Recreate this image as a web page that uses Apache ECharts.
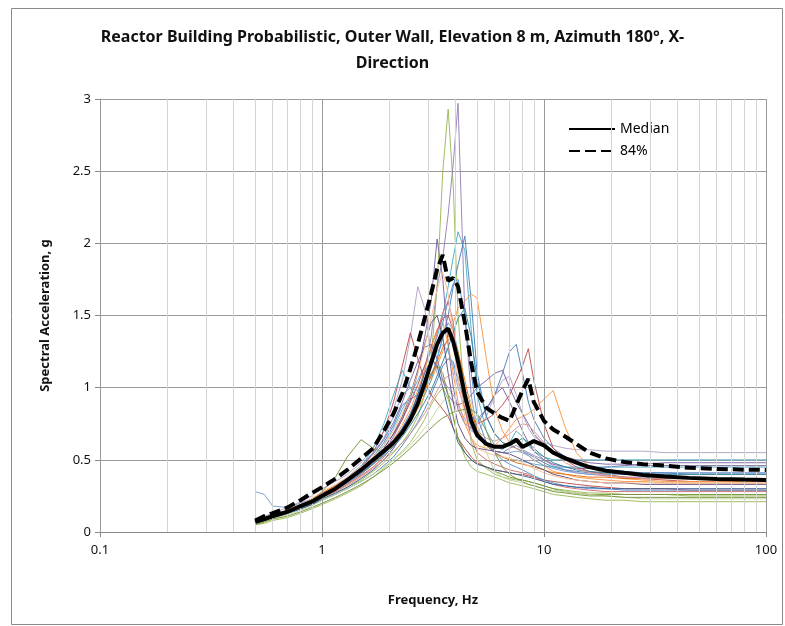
<!DOCTYPE html>
<html>
<head>
<meta charset="utf-8">
<script src="https://cdn.jsdelivr.net/npm/echarts@6/dist/echarts.min.js"></script>
<style>html,body{margin:0;padding:0;background:#fff}#c{width:785px;height:626px}</style>
</head>
<body>
<div id="c"></div>
<script>
const freqs = [0.5,0.55,0.6,0.7,0.8,0.9,1.0,1.15,1.3,1.5,1.7,1.9,2.1,2.3,2.5,2.7,2.9,3.1,3.3,3.5,3.7,3.9,4.1,4.4,4.7,5.0,5.5,6.0,6.5,7.0,7.5,8.0,8.5,9.0,10,11,12.5,14,16,19,23,28,35,45,60,80,100];

const median = [0.07,0.09,0.11,0.14,0.18,0.21,0.25,0.30,0.36,0.43,0.50,0.56,0.62,0.69,0.78,0.89,1.03,1.17,1.30,1.38,1.41,1.32,1.18,0.95,0.77,0.67,0.61,0.59,0.59,0.61,0.64,0.59,0.61,0.63,0.60,0.55,0.51,0.48,0.45,0.425,0.41,0.395,0.385,0.375,0.368,0.363,0.36];
const p84 = [0.08,0.11,0.13,0.17,0.22,0.27,0.31,0.37,0.43,0.51,0.58,0.70,0.82,0.96,1.13,1.30,1.48,1.65,1.82,1.92,1.74,1.76,1.70,1.45,1.17,0.97,0.86,0.82,0.79,0.77,0.88,0.98,1.06,0.90,0.77,0.71,0.66,0.61,0.55,0.51,0.485,0.47,0.46,0.445,0.437,0.432,0.43];

const r01 = [0.06,0.08,0.10,0.13,0.16,0.19,0.22,0.27,0.31,0.36,0.42,0.48,0.55,0.62,0.70,0.80,0.95,1.20,1.70,2.50,2.93,2.40,1.50,0.90,0.62,0.50,0.44,0.40,0.38,0.37,0.36,0.36,0.35,0.34,0.32,0.30,0.29,0.28,0.27,0.27,0.26,0.26,0.26,0.25,0.25,0.25,0.25];
const r02 = [0.08,0.10,0.12,0.15,0.19,0.23,0.27,0.32,0.37,0.44,0.50,0.57,0.64,0.72,0.82,0.95,1.12,1.35,1.70,1.90,2.20,2.55,2.97,1.50,0.95,0.70,0.60,0.56,0.55,0.58,0.60,0.57,0.55,0.53,0.50,0.46,0.43,0.41,0.40,0.39,0.38,0.38,0.37,0.37,0.37,0.37,0.37];
const r03 = [0.07,0.09,0.11,0.14,0.17,0.21,0.25,0.30,0.35,0.42,0.50,0.60,0.72,0.85,0.95,1.05,1.15,1.25,1.35,1.50,1.70,1.90,2.08,1.95,1.40,0.95,0.70,0.60,0.57,0.62,0.70,0.66,0.60,0.56,0.52,0.50,0.50,0.50,0.50,0.50,0.50,0.50,0.50,0.50,0.50,0.50,0.50];
const r04 = [0.08,0.10,0.12,0.15,0.18,0.22,0.26,0.31,0.36,0.44,0.52,0.62,0.74,0.88,0.92,0.95,1.00,1.08,1.20,1.35,1.50,1.70,1.85,2.05,1.60,1.10,0.80,0.68,0.62,0.60,0.58,0.56,0.54,0.52,0.48,0.45,0.43,0.42,0.41,0.41,0.41,0.41,0.41,0.41,0.41,0.41,0.41];
const r05 = [0.06,0.08,0.10,0.13,0.17,0.20,0.24,0.29,0.34,0.41,0.48,0.56,0.66,0.78,0.92,1.10,1.35,1.60,2.03,1.75,1.30,1.00,0.85,0.75,0.72,0.75,0.85,0.95,1.00,0.90,0.80,0.70,0.62,0.56,0.50,0.47,0.45,0.44,0.44,0.45,0.46,0.47,0.48,0.48,0.48,0.48,0.48];
const r06 = [0.09,0.11,0.13,0.17,0.21,0.25,0.30,0.35,0.40,0.48,0.58,0.70,0.85,1.05,1.35,1.70,1.55,1.25,1.10,1.05,1.00,0.95,0.88,0.78,0.70,0.68,0.80,0.95,1.05,1.08,0.95,0.82,0.72,0.66,0.62,0.60,0.58,0.57,0.57,0.56,0.56,0.56,0.55,0.55,0.55,0.55,0.55];
const r07 = [0.07,0.09,0.11,0.14,0.17,0.20,0.24,0.28,0.33,0.39,0.45,0.52,0.60,0.68,0.76,0.85,0.95,1.05,1.15,1.25,1.35,1.45,1.55,1.60,1.65,1.62,1.20,0.85,0.70,0.62,0.58,0.55,0.53,0.50,0.46,0.42,0.40,0.38,0.37,0.36,0.35,0.35,0.34,0.34,0.34,0.34,0.34];
const r08 = [0.07,0.09,0.11,0.14,0.18,0.22,0.26,0.31,0.36,0.44,0.55,0.70,0.90,1.15,1.38,1.20,1.05,0.95,0.90,0.85,0.80,0.72,0.65,0.58,0.52,0.48,0.45,0.43,0.42,0.41,0.40,0.40,0.39,0.38,0.36,0.35,0.34,0.33,0.32,0.31,0.30,0.30,0.30,0.29,0.29,0.29,0.29];
const r09 = [0.06,0.08,0.10,0.13,0.16,0.19,0.22,0.26,0.30,0.35,0.40,0.46,0.52,0.60,0.68,0.76,0.85,0.95,1.05,1.15,1.20,1.18,1.05,0.90,0.80,0.78,0.85,0.95,1.10,1.25,1.30,1.10,0.90,0.78,0.65,0.58,0.52,0.48,0.45,0.43,0.42,0.41,0.41,0.40,0.40,0.40,0.40];
const r10 = [0.08,0.10,0.12,0.15,0.18,0.22,0.26,0.30,0.35,0.42,0.50,0.58,0.68,0.78,0.90,1.02,1.15,1.28,1.40,1.48,1.50,1.40,1.20,0.95,0.80,0.75,0.78,0.82,0.88,0.95,1.05,1.15,1.27,1.05,0.75,0.58,0.50,0.45,0.42,0.40,0.38,0.37,0.36,0.35,0.35,0.35,0.35];
const r11 = [0.07,0.09,0.11,0.14,0.17,0.21,0.25,0.29,0.34,0.40,0.47,0.55,0.64,0.74,0.85,0.98,1.12,1.28,1.40,1.45,1.30,1.10,0.90,0.75,0.65,0.60,0.58,0.60,0.65,0.72,0.78,0.80,0.82,0.85,0.92,0.98,0.72,0.55,0.45,0.40,0.37,0.36,0.35,0.35,0.35,0.35,0.35];
const r12 = [0.07,0.09,0.11,0.14,0.18,0.22,0.26,0.31,0.37,0.45,0.54,0.64,0.76,0.90,1.05,1.18,1.28,1.30,1.20,1.05,0.95,0.90,0.88,0.90,0.95,1.00,1.05,1.10,1.12,1.00,0.90,0.82,0.75,0.68,0.60,0.55,0.52,0.50,0.48,0.47,0.47,0.46,0.46,0.46,0.46,0.46,0.46];
const r13 = [0.28,0.26,0.18,0.17,0.20,0.23,0.27,0.32,0.38,0.46,0.55,0.65,0.80,0.95,1.00,0.98,1.05,1.15,1.25,1.30,1.25,1.15,1.00,0.85,0.72,0.65,0.60,0.56,0.55,0.55,0.56,0.55,0.53,0.50,0.46,0.44,0.42,0.41,0.40,0.40,0.40,0.40,0.40,0.40,0.40,0.40,0.40];
const r14 = [0.05,0.06,0.08,0.10,0.13,0.16,0.19,0.23,0.27,0.32,0.38,0.44,0.50,0.56,0.62,0.70,0.78,0.88,0.95,1.00,0.92,0.80,0.65,0.52,0.45,0.42,0.40,0.38,0.36,0.34,0.33,0.32,0.31,0.30,0.28,0.26,0.25,0.24,0.23,0.22,0.22,0.21,0.21,0.21,0.21,0.21,0.21];
const r15 = [0.06,0.08,0.10,0.13,0.17,0.22,0.28,0.38,0.52,0.64,0.58,0.55,0.60,0.68,0.78,0.90,1.00,1.10,1.15,1.10,0.95,0.80,0.65,0.55,0.50,0.47,0.45,0.42,0.40,0.38,0.37,0.36,0.35,0.34,0.32,0.30,0.28,0.27,0.26,0.26,0.26,0.26,0.26,0.26,0.26,0.26,0.26];
const r16 = [0.07,0.09,0.11,0.14,0.17,0.21,0.25,0.30,0.36,0.45,0.58,0.75,0.95,1.12,1.00,0.92,0.95,1.05,1.20,1.35,1.45,1.40,1.25,1.00,0.80,0.68,0.60,0.55,0.52,0.50,0.50,0.49,0.48,0.47,0.46,0.45,0.45,0.45,0.45,0.45,0.45,0.45,0.45,0.45,0.45,0.45,0.45];
const r17 = [0.08,0.10,0.12,0.15,0.19,0.23,0.27,0.32,0.37,0.44,0.50,0.56,0.62,0.70,0.78,0.88,0.98,1.08,1.18,1.28,1.33,1.35,1.25,1.05,0.85,0.70,0.60,0.55,0.52,0.50,0.48,0.47,0.46,0.45,0.43,0.41,0.40,0.39,0.38,0.38,0.37,0.37,0.37,0.37,0.37,0.37,0.37];
const r18 = [0.07,0.09,0.11,0.14,0.17,0.20,0.24,0.28,0.33,0.39,0.45,0.52,0.60,0.70,0.80,0.92,1.05,1.20,1.38,1.52,1.60,1.45,1.15,0.85,0.65,0.55,0.50,0.47,0.45,0.43,0.42,0.41,0.40,0.38,0.35,0.33,0.31,0.30,0.29,0.28,0.28,0.28,0.28,0.28,0.28,0.28,0.28];
const r19 = [0.06,0.08,0.10,0.13,0.16,0.20,0.24,0.29,0.34,0.40,0.47,0.54,0.62,0.72,0.82,0.94,1.06,1.18,1.30,1.45,1.60,1.72,1.75,1.50,1.10,0.80,0.62,0.55,0.50,0.47,0.45,0.43,0.41,0.39,0.36,0.34,0.32,0.31,0.30,0.30,0.29,0.29,0.29,0.29,0.29,0.29,0.29];
const r20 = [0.07,0.09,0.11,0.14,0.17,0.21,0.25,0.30,0.35,0.41,0.47,0.53,0.59,0.66,0.74,0.82,0.90,0.98,1.08,1.18,1.28,1.38,1.48,1.55,1.35,1.05,0.80,0.68,0.62,0.60,0.62,0.65,0.62,0.58,0.52,0.48,0.45,0.43,0.42,0.41,0.40,0.40,0.40,0.40,0.40,0.40,0.40];
const r21 = [0.05,0.07,0.09,0.12,0.15,0.18,0.22,0.26,0.30,0.35,0.40,0.45,0.50,0.55,0.60,0.66,0.72,0.78,0.85,0.90,0.95,0.98,1.00,0.98,0.90,0.75,0.55,0.42,0.38,0.36,0.35,0.34,0.33,0.32,0.30,0.29,0.28,0.27,0.26,0.25,0.24,0.23,0.23,0.23,0.23,0.23,0.23];
const r22 = [0.07,0.09,0.11,0.14,0.18,0.22,0.26,0.31,0.36,0.43,0.50,0.58,0.68,0.80,0.95,1.12,1.30,1.45,1.50,1.35,1.10,0.90,0.75,0.65,0.60,0.58,0.57,0.56,0.55,0.54,0.52,0.50,0.48,0.46,0.43,0.40,0.38,0.36,0.35,0.34,0.34,0.33,0.33,0.33,0.33,0.33,0.33];
const r23 = [0.08,0.10,0.12,0.15,0.19,0.23,0.28,0.33,0.38,0.45,0.52,0.60,0.70,0.82,0.95,1.10,1.28,1.48,1.68,1.80,1.65,1.35,1.05,0.80,0.65,0.58,0.55,0.53,0.52,0.51,0.50,0.48,0.46,0.44,0.41,0.39,0.37,0.36,0.35,0.34,0.34,0.34,0.34,0.34,0.34,0.34,0.34];
const r24 = [0.06,0.08,0.10,0.13,0.16,0.19,0.23,0.27,0.31,0.37,0.43,0.50,0.58,0.68,0.80,0.95,1.10,1.20,1.15,1.00,0.85,0.72,0.62,0.55,0.50,0.47,0.45,0.43,0.42,0.41,0.40,0.39,0.38,0.37,0.35,0.33,0.32,0.31,0.31,0.30,0.30,0.30,0.30,0.30,0.30,0.30,0.30];
const r25 = [0.07,0.09,0.11,0.14,0.17,0.20,0.24,0.28,0.32,0.38,0.44,0.50,0.56,0.62,0.68,0.75,0.82,0.90,0.98,1.05,1.08,1.10,1.08,0.95,0.80,0.70,0.65,0.63,0.65,0.68,0.72,0.75,0.74,0.70,0.62,0.55,0.48,0.44,0.41,0.39,0.38,0.37,0.37,0.37,0.37,0.37,0.37];
const r26 = [0.05,0.07,0.09,0.11,0.14,0.17,0.20,0.24,0.28,0.33,0.38,0.43,0.48,0.53,0.58,0.63,0.68,0.72,0.76,0.79,0.81,0.83,0.84,0.85,0.85,0.82,0.70,0.55,0.45,0.40,0.37,0.35,0.33,0.32,0.30,0.28,0.27,0.26,0.25,0.25,0.24,0.24,0.24,0.24,0.24,0.24,0.24];

const runs = [r01,r02,r03,r04,r05,r06,r07,r08,r09,r10,r11,r12,r13,r14,r15,r16,r17,r18,r19,r20,r21,r22,r23,r24,r25,r26];
const runColors = ['#9BBB59','#9983B5','#4BACC6','#4F81BD','#8064A2','#B3A2C7','#F79646','#C0504D','#4F81BD','#C0504D','#F79646','#8064A2','#7F9FD0','#9BBB59','#77933C','#4BACC6','#E46C0A','#D0706E','#558ED5','#31859C','#C3D69B','#604A7B','#FAC090','#376092','#D99694','#77933C'];

const minorFreqs = [0.2,0.3,0.4,0.5,0.6,0.7,0.8,0.9,2,3,4,5,6,7,8,9,20,30,40,50,60,70,80,90];
const majorFreqs = [0.1,1,10,100];

const pair = v => freqs.map((f,i)=>[f,v[i]]);
const font = '"Noto Sans", "Open Sans", sans-serif';

const series = [];
series.push({
  name:'grid', type:'line', data:[], silent:true, z:1,
  markLine:{ silent:true, symbol:'none', label:{show:false}, animation:false,
    lineStyle:{color:'#d4d4d4', width:1, type:'solid'},
    data: minorFreqs.map(f=>({xAxis:f}))
  }
});
series.push({
  name:'grid2', type:'line', data:[], silent:true, z:1,
  markLine:{ silent:true, symbol:'none', label:{show:false}, animation:false,
    lineStyle:{color:'#9a9a9a', width:1, type:'solid'},
    data: majorFreqs.map(f=>({xAxis:f}))
  }
});
runs.forEach((r,k)=>{
  series.push({
    name:'run'+(k+1), type:'line', data:pair(r), showSymbol:false, symbol:'none',
    lineStyle:{color:runColors[k], width:1, opacity:0.95}, z:2, animation:false
  });
});
series.push({name:'Median', type:'line', data:pair(median), symbol:'none', showSymbol:false,
  lineStyle:{color:'#000', width:4}, itemStyle:{color:'#000'}, z:5, animation:false});
series.push({name:'84%', type:'line', data:pair(p84), symbol:'none', showSymbol:false,
  lineStyle:{color:'#000', width:4, type:[11,5]}, itemStyle:{color:'#000'}, z:5, animation:false});

const chart = echarts.init(document.getElementById('c'));
chart.setOption({
  backgroundColor:'#fff',
  animation:false,
  title:{
    text:'Reactor Building Probabilistic, Outer Wall, Elevation 8 m, Azimuth 180°, X-\nDirection',
    left:'center', top:19,
    textStyle:{fontFamily:font, fontSize:16, fontWeight:'bold', color:'#111', lineHeight:26}
  },
  legend:{
    data:['Median','84%'], orient:'vertical', left:563, top:117, itemGap:8,
    itemWidth:46, itemHeight:14,
    itemStyle:{opacity:0},
    textStyle:{fontFamily:font, fontSize:14, color:'#000'}
  },
  grid:{left:100, right:19, top:99, bottom:94},
  xAxis:{
    type:'log', logBase:10, min:0.1, max:100,
    name:'Frequency, Hz', nameLocation:'middle', nameGap:62,
    nameTextStyle:{fontFamily:font, fontSize:13, fontWeight:'bold', color:'#111'},
    axisLine:{lineStyle:{color:'#888'}},
    axisTick:{show:true, length:5, lineStyle:{color:'#888'}},
    axisLabel:{fontFamily:font, fontSize:13, color:'#111', margin:12},
    splitLine:{show:false}
  },
  yAxis:{
    type:'value', min:0, max:3, interval:0.5,
    name:'Spectral Acceleration, g', nameLocation:'middle', nameGap:48,
    nameTextStyle:{fontFamily:font, fontSize:13, fontWeight:'bold', color:'#111'},
    axisLine:{show:true, lineStyle:{color:'#888'}},
    axisTick:{show:true, length:5, lineStyle:{color:'#888'}},
    axisLabel:{fontFamily:font, fontSize:13, color:'#111', margin:9},
    splitLine:{show:true, lineStyle:{color:'#9a9a9a', width:1}}
  },
  graphic:[{type:'rect', shape:{x:11.5, y:8.5, width:771, height:616}, style:{fill:'none', stroke:'#8a8a8a', lineWidth:1}, silent:true, z:-1}],
  series:series
});
</script>
</body>
</html>
